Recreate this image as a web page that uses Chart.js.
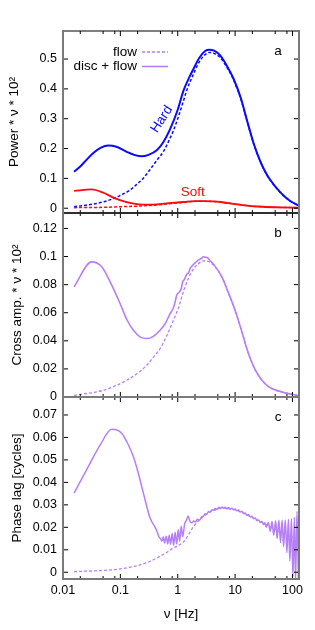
<!DOCTYPE html>
<html>
<head>
<meta charset="utf-8">
<script src="https://cdn.jsdelivr.net/npm/chart.js@4.4.1/dist/chart.umd.min.js"></script>
<style>
  html, body { margin: 0; padding: 0; background: #fff; overflow: hidden; }
  #wrap { position: relative; width: 315px; height: 630px; }
  #wrap canvas { position: absolute; left: 0; top: 0; width: 315px; height: 630px; }
</style>
</head>
<body>
<div id="wrap">
  <canvas id="panelA" width="315" height="630"></canvas>
  <canvas id="panelB" width="315" height="630"></canvas>
  <canvas id="panelC" width="315" height="630"></canvas>
</div>
<script>
// --- panel a: power spectra (Hard = blue, Soft = red) ---
const hardDiscFreq  = [0.0156, 0.02, 0.0256, 0.0338, 0.045, 0.0618, 0.085, 0.129, 0.18, 0.236,
                       0.31, 0.431, 0.563, 0.736, 1.0, 1.26, 1.6, 1.88, 2.4, 3.0,
                       3.57, 4.3, 5.5, 7.0, 9.4, 12.5, 16.1, 21, 27.4, 33,
                       40, 61, 90, 128];
const hardDiscPower = [0.122, 0.140, 0.162, 0.185, 0.202, 0.210, 0.206, 0.189, 0.178, 0.174,
                       0.179, 0.194, 0.222, 0.265, 0.330, 0.394, 0.440, 0.467, 0.505, 0.527,
                       0.531, 0.528, 0.512, 0.481, 0.434, 0.371, 0.295, 0.218, 0.158, 0.125,
                       0.098, 0.054, 0.025, 0.009];
const hardFlowFreq  = [0.0156, 0.025, 0.0338, 0.05, 0.075, 0.1, 0.1476, 0.193, 0.25, 0.33,
                       0.43, 0.563, 0.736, 0.84, 1.0, 1.26, 1.43, 1.88, 2.4, 3.0,
                       3.57, 4.3, 5.5, 7.0, 9.4, 12.5, 16.1, 21, 27.4, 33,
                       40, 61, 90, 128];
const hardFlowPower = [0.005, 0.010, 0.014, 0.021, 0.032, 0.043, 0.061, 0.080, 0.100, 0.130,
                       0.160, 0.190, 0.235, 0.260, 0.300, 0.360, 0.394, 0.450, 0.492, 0.515,
                       0.522, 0.519, 0.505, 0.476, 0.430, 0.368, 0.293, 0.217, 0.157, 0.124,
                       0.097, 0.053, 0.025, 0.009];
const softDiscFreq  = [0.0156, 0.0316, 0.05, 0.081, 0.12, 0.193, 0.3, 0.43, 0.7, 1.1,
                       1.44, 2.0, 2.78, 4.0, 6.0, 10, 16, 30, 60, 128];
const softDiscPower = [0.058, 0.063, 0.052, 0.033, 0.022, 0.014, 0.012, 0.013, 0.017, 0.020,
                       0.022, 0.0235, 0.024, 0.023, 0.020, 0.014, 0.009, 0.005, 0.003, 0.002];
const softFlowFreq  = [0.0156, 0.05, 0.1, 0.2, 0.43, 0.8, 1.2, 2.0, 2.78, 4.0,
                       6.0, 10, 16, 30, 60, 128];
const softFlowPower = [0.002, 0.003, 0.005, 0.007, 0.011, 0.016, 0.019, 0.0232, 0.0238, 0.0228,
                       0.0198, 0.0138, 0.0088, 0.0048, 0.0028, 0.0018];

// --- panel b: cross amplitude ---
const crossDiscFreq = [0.0156, 0.0316, 0.0473, 0.07, 0.0988, 0.13, 0.169, 0.22, 0.288, 0.37,
                       0.493, 0.62, 0.736, 0.82, 0.88, 0.96, 1.05, 1.15, 1.22, 1.3,
                       1.44, 1.55, 1.65, 1.8, 2.0, 2.3, 2.6, 2.8, 3.0, 3.3,
                       3.6, 4.3, 5.9, 7.5, 10, 13, 17.1, 22, 29.4, 40,
                       65.6, 100, 128];
const crossDiscAmp  = [0.0784, 0.0962, 0.0927, 0.080, 0.0666, 0.055, 0.0475, 0.0428, 0.0416, 0.043,
                       0.0475, 0.053, 0.0594, 0.0625, 0.066, 0.0725, 0.0745, 0.077, 0.082, 0.0835,
                       0.0874, 0.0885, 0.0915, 0.0935, 0.0955, 0.0975, 0.0988, 0.0998, 0.0995, 0.0992,
                       0.0975, 0.094, 0.0855, 0.075, 0.0618, 0.047, 0.0309, 0.020, 0.0119, 0.0068,
                       0.0036, 0.0018, 0.001];
const crossFlowFreq = [0.0156, 0.0506, 0.129, 0.2, 0.288, 0.4, 0.493, 0.65, 0.84, 1.0,
                       1.34, 1.8, 2.4, 2.9, 3.5, 4.3, 5.9, 7.5, 10, 13,
                       17.1, 22, 29.4, 40, 65.6, 100, 128];
const crossFlowAmp  = [0.0012, 0.0048, 0.0119, 0.017, 0.0226, 0.0297, 0.0345, 0.044, 0.0547, 0.062,
                       0.0784, 0.09, 0.0955, 0.097, 0.0963, 0.0935, 0.0852, 0.0748, 0.0617, 0.047,
                       0.0309, 0.020, 0.0119, 0.0068, 0.0036, 0.0018, 0.001];

// --- panel c: phase lag ---
const phaseDiscFreq = [0.0156, 0.0296, 0.0443, 0.0708, 0.085, 0.106, 0.135, 0.169, 0.21, 0.252,
                       0.33, 0.404, 0.43, 0.47, 0.50, 0.53, 0.56, 0.59, 0.63, 0.67,
                       0.71, 0.75, 0.80, 0.85, 0.90, 0.96, 1.02, 1.08, 1.15, 1.22,
                       1.32, 1.42, 1.52, 1.62, 1.76, 1.9, 2.05, 2.2, 2.4, 2.6,
                       2.81, 3.0, 3.2, 3.45, 3.67, 3.95, 4.2, 4.5, 4.81, 5.2,
                       5.5, 5.9, 6.28, 6.7, 7.2, 7.7, 8.2, 8.8, 9.4, 10.0,
                       10.7, 11.5, 12.2, 13.1, 14.0, 15.0, 16.0, 17.2, 18.4, 19.7,
                       21.0, 22.5, 24.0, 25.7, 27.5, 29.4, 31.3, 33.2, 35, 38,
                       41, 44, 47, 51, 54, 58, 62, 66, 70, 75,
                       80, 85, 90, 96, 102, 108, 113, 120, 127];
const phaseDiscLag  = [0.0352, 0.0485, 0.0566, 0.0636, 0.0634, 0.0618, 0.0572, 0.0514, 0.0432, 0.0352,
                       0.0241, 0.0200, 0.0185, 0.0158, 0.0150, 0.0138, 0.0158, 0.0130, 0.0160, 0.0126,
                       0.0165, 0.0124, 0.0172, 0.0120, 0.0178, 0.0126, 0.0190, 0.0138, 0.0205, 0.0158,
                       0.0215, 0.0232, 0.0250, 0.0228, 0.0220, 0.0228, 0.0224, 0.0236, 0.0232, 0.0246,
                       0.0250, 0.0260, 0.0258, 0.0270, 0.0268, 0.0278, 0.0276, 0.0284, 0.0280, 0.0289,
                       0.0284, 0.0290, 0.0285, 0.0289, 0.0283, 0.0288, 0.0281, 0.0285, 0.0278, 0.0282,
                       0.0274, 0.0277, 0.0268, 0.0271, 0.0262, 0.0264, 0.0254, 0.0257, 0.0246, 0.0249,
                       0.0238, 0.0241, 0.0230, 0.0233, 0.0221, 0.0226, 0.0212, 0.0220, 0.0200, 0.0222,
                       0.0182, 0.0226, 0.0166, 0.0229, 0.0150, 0.0231, 0.0132, 0.0232, 0.0114, 0.0233,
                       0.0088, 0.0235, 0.0050, 0.0238, -0.002, 0.0245, -0.004, 0.0272, -0.004];
const phaseFlowFreq = [0.0156, 0.05, 0.1, 0.2, 0.33, 0.49, 0.64, 0.8, 1.0, 1.26,
                       1.54, 1.9, 2.3, 2.8, 3.67, 4.81, 6.28, 8.2, 10.7, 14,
                       18.4, 24, 31.3, 41, 54, 70, 90, 120];
const phaseFlowLag  = [0.0003, 0.0008, 0.0015, 0.003, 0.0049, 0.0071, 0.0088, 0.0105, 0.0118, 0.0135,
                       0.0167, 0.0205, 0.0228, 0.0248, 0.0268, 0.028, 0.0285, 0.0282, 0.0275, 0.0263,
                       0.0248, 0.0233, 0.0218, 0.0202, 0.0187, 0.0172, 0.016, 0.015];

// tick labels
const xDecades = [0.01, 0.1, 1, 10, 100];
const xMinorSteps = [2, 5, 8];
const yTicksPower = [0, 0.1, 0.2, 0.3, 0.4, 0.5];
const yTicksCross = [0, 0.02, 0.04, 0.06, 0.08, 0.1, 0.12];
const yTicksPhase = [0, 0.01, 0.02, 0.03, 0.04, 0.05, 0.06, 0.07];

const FONT = "'Liberation Sans', Arial, Helvetica, sans-serif";
const BLUE = '#0a0aff', RED = '#ff0a0a', PURPLE = '#b67ff7', GRAY = '#7a7a7a';
Chart.defaults.font.family = FONT;
Chart.defaults.color = '#000';

const pts = (xs, ys) => xs.map((f, i) => ({ x: f, y: ys[i] }));
const solid = (data, color, w) => ({ data, borderColor: color, borderWidth: w, borderDash: [] });
const dashed = (data, color, w) => ({ data, borderColor: color, borderWidth: w, borderDash: [3, 2] });

// gnuplot-like frame with inward ticks on all four sides
const framePlugin = {
  id: 'frame',
  afterDatasetsDraw(chart, args, opts) {
    const { ctx, chartArea: a, scales: { x, y } } = chart;
    ctx.save();
    ctx.strokeStyle = '#000';
    ctx.lineWidth = 1;
    ctx.beginPath();
    y.ticks.forEach(t => {
      const py = y.getPixelForValue(t.value);
      ctx.moveTo(a.left, py); ctx.lineTo(a.left + 5, py);
      ctx.moveTo(a.right, py); ctx.lineTo(a.right - 5, py);
    });
    xDecades.forEach(d => {
      [1].concat(xMinorSteps).forEach(m => {
        const v = d * m;
        if (v < x.min || v > x.max) return;
        const len = m === 1 ? 5 : 3;
        const px = x.getPixelForValue(v);
        ctx.moveTo(px, a.top); ctx.lineTo(px, a.top + len);
        ctx.moveTo(px, a.bottom); ctx.lineTo(px, a.bottom - len);
      });
    });
    ctx.stroke();
    const edge = (x1, y1, x2, y2, color, w) => {
      ctx.beginPath();
      ctx.strokeStyle = color; ctx.lineWidth = w;
      ctx.moveTo(x1, y1); ctx.lineTo(x2, y2);
      ctx.stroke();
    };
    edge(a.left, a.top, a.right, a.top, opts.topColor, opts.topWidth);
    edge(a.left, a.bottom, a.right, a.bottom, opts.bottomColor, opts.bottomWidth);
    edge(a.left, a.top - 1, a.left, a.bottom + 1, GRAY, 2);
    edge(a.right, a.top - 1, a.right, a.bottom + 1, GRAY, 2);
    ctx.restore();
  }
};

// panel letter, legend and curve labels
const notesPlugin = {
  id: 'notes',
  afterDraw(chart, args, opts) {
    const { ctx, chartArea: a, scales: { x, y } } = chart;
    ctx.save();
    ctx.font = `13.5px ${FONT}`;
    ctx.textBaseline = 'middle';
    ctx.textAlign = 'center';
    ctx.fillStyle = '#000';
    ctx.fillText(opts.panel, a.right - 21, a.top + 20);
    (opts.legend || []).forEach((item, i) => {
      const ly = a.top + 21 + i * 14.5;
      ctx.textAlign = 'right';
      ctx.fillStyle = '#000';
      ctx.fillText(item.text, a.left + 74, ly);
      ctx.beginPath();
      ctx.strokeStyle = PURPLE;
      ctx.lineWidth = item.width;
      ctx.setLineDash(item.dash);
      ctx.moveTo(a.left + 79, ly); ctx.lineTo(a.left + 105, ly);
      ctx.stroke();
      ctx.setLineDash([]);
    });
    (opts.labels || []).forEach(l => {
      ctx.save();
      ctx.translate(x.getPixelForValue(l.f), y.getPixelForValue(l.v));
      ctx.rotate(l.angle * Math.PI / 180);
      ctx.textAlign = 'center';
      ctx.fillStyle = l.color;
      ctx.fillText(l.text, 0, 0);
      ctx.restore();
    });
    ctx.restore();
  }
};

function panel(id, cfg) {
  return new Chart(document.getElementById(id), {
    type: 'line',
    data: { datasets: cfg.datasets },
    options: {
      responsive: false,
      animation: false,
      events: [],
      layout: { padding: { top: cfg.top, bottom: cfg.bottom, left: 0, right: 16 } },
      elements: {
        point: { radius: 0 },
        line: { cubicInterpolationMode: 'monotone', fill: false }
      },
      plugins: {
        legend: { display: false },
        tooltip: { enabled: false },
        frame: cfg.frame,
        notes: cfg.notes
      },
      scales: {
        x: {
          type: 'logarithmic', min: 0.01, max: 130,
          display: cfg.showX,
          afterBuildTicks: s => { s.ticks = xDecades.map(v => ({ value: v })); },
          afterFit: s => { if (cfg.showX) s.height = 51; },
          grid: { display: false, drawTicks: false },
          border: { display: false },
          ticks: { autoSkip: false, maxRotation: 0, padding: 4, font: { size: 12.5 },
                   callback: v => String(v) },
          title: { display: true, text: 'ν [Hz]', font: { size: 13.5 }, padding: { top: 0, bottom: 8 } }
        },
        y: {
          type: 'linear', min: cfg.yMin, max: cfg.yMax,
          afterBuildTicks: s => { s.ticks = cfg.yTicks.map(v => ({ value: v })); },
          afterFit: s => { s.width = 63; },
          grid: { display: false, drawTicks: false },
          border: { display: false },
          ticks: { padding: 6, font: { size: 12.5 }, callback: v => String(+v.toFixed(3)) },
          title: { display: true, text: cfg.yTitle, font: { size: 13.5 },
                   padding: { top: cfg.titlePad, bottom: 0 } }
        }
      }
    },
    plugins: [framePlugin, notesPlugin]
  });
}

panel('panelA', {
  top: 31, bottom: 630 - 213, showX: false,
  yMin: -0.016, yMax: 0.594, yTicks: yTicksPower,
  yTitle: 'Power * ν * 10²', titlePad: 6,
  frame: { topColor: '#000', topWidth: 1.2, bottomColor: '#222', bottomWidth: 1.5 },
  notes: {
    panel: 'a',
    legend: [{ text: 'flow', dash: [3, 2], width: 1.3 }, { text: 'disc + flow', dash: [], width: 1.6 }],
    labels: [{ text: 'Hard', f: 0.527, v: 0.298, angle: -57, color: BLUE },
             { text: 'Soft', f: 1.82, v: 0.054, angle: 0, color: RED }]
  },
  datasets: [
    dashed(pts(softFlowFreq, softFlowPower), RED, 1.5),
    solid(pts(softDiscFreq, softDiscPower), RED, 1.8),
    dashed(pts(hardFlowFreq, hardFlowPower), BLUE, 1.5),
    solid(pts(hardDiscFreq, hardDiscPower), BLUE, 2)
  ]
});

panel('panelB', {
  top: 213, bottom: 630 - 397, showX: false,
  yMin: 0, yMax: 0.131, yTicks: yTicksCross,
  yTitle: 'Cross amp. * ν * 10²', titlePad: 9,
  frame: { topColor: '#222', topWidth: 1.5, bottomColor: GRAY, bottomWidth: 2 },
  notes: { panel: 'b' },
  datasets: [
    dashed(pts(crossFlowFreq, crossFlowAmp), PURPLE, 1.3),
    solid(pts(crossDiscFreq, crossDiscAmp), PURPLE, 1.6)
  ]
});

panel('panelC', {
  top: 397, bottom: 0, showX: true,
  yMin: -0.003, yMax: 0.078, yTicks: yTicksPhase,
  yTitle: 'Phase lag [cycles]', titlePad: 9,
  frame: { topColor: GRAY, topWidth: 2, bottomColor: GRAY, bottomWidth: 2 },
  notes: { panel: 'c' },
  datasets: [
    dashed(pts(phaseFlowFreq, phaseFlowLag), PURPLE, 1.3),
    solid(pts(phaseDiscFreq, phaseDiscLag), PURPLE, 1.5)
  ]
});
</script>
</body>
</html>
